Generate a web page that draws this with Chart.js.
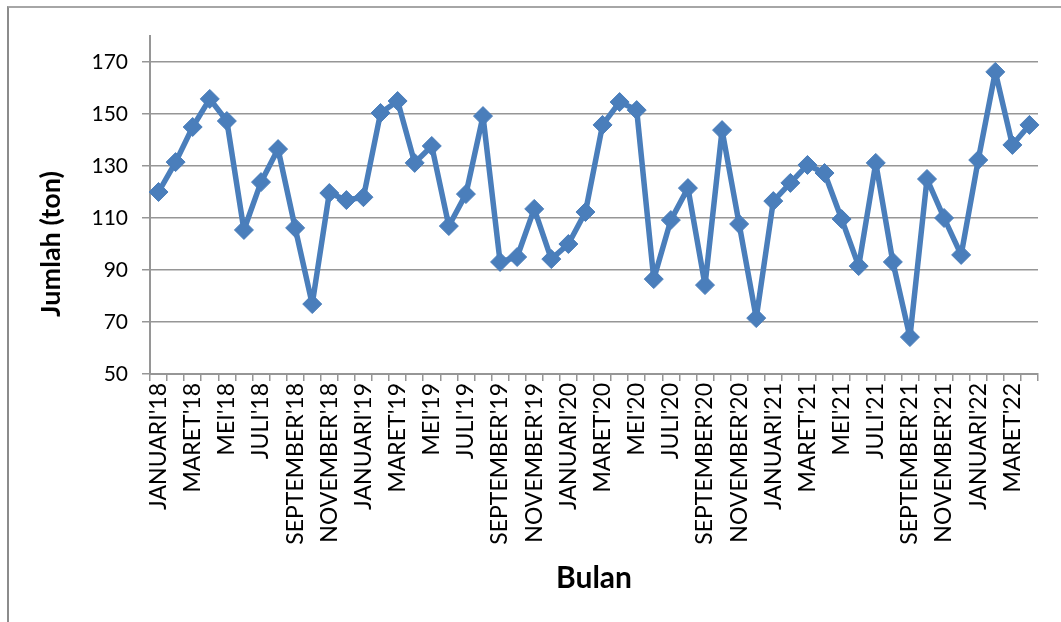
<!DOCTYPE html>
<html>
<head>
<meta charset="utf-8">
<script src="https://cdn.jsdelivr.net/npm/chart.js@4/dist/chart.umd.min.js"></script>
<style>
  html, body { margin: 0; padding: 0; background: #fff; overflow: hidden; }
  #wrap { position: relative; width: 1061px; height: 622px; }
  #frame { position: absolute; left: 7px; top: 6px; width: 1100px; height: 700px;
           border-top: 2px solid #a6a6a6; border-left: 2px solid #8c8c8c; pointer-events: none; }
  canvas { position: absolute; left: 0; top: 0; }
</style>
</head>
<body>
<div id="wrap">
  <canvas id="chart" width="1061" height="622"></canvas>
  <div id="frame"></div>
</div>
<script>
// Monthly volume, January 2018 - April 2022
const months = ["JANUARI", "FEBRUARI", "MARET", "APRIL", "MEI", "JUNI",
                "JULI", "AGUSTUS", "SEPTEMBER", "OKTOBER", "NOVEMBER", "DESEMBER"];
const years = ["18", "19", "20", "21", "22"];

const categories = [];
years.forEach(y => months.forEach(m => categories.push(m + "'" + y)));
categories.length = 52; // up to APRIL'22

const jumlah2018 = [120, 131.5, 145, 155.8, 147.3, 105.4, 123.8, 136.5, 106.2, 76.9, 119.6, 116.9];
const jumlah2019 = [118, 150.4, 155, 131.2, 137.7, 106.9, 119.2, 149.2, 93.1, 95, 113.5, 94.2];
const jumlah2020 = [100, 112.3, 145.8, 154.6, 151.5, 86.5, 109.2, 121.5, 84.2, 143.8, 107.7, 71.5];
const jumlah2021 = [116.5, 123.5, 130.4, 127.3, 109.6, 91.5, 131.2, 93.1, 64.2, 125, 110, 95.8];
const jumlah2022 = [132.3, 166.2, 138.1, 145.8];
const jumlah = [].concat(jumlah2018, jumlah2019, jumlah2020, jumlah2021, jumlah2022);

const yTicks = [50, 70, 90, 110, 130, 150, 170];
const yTitle = 'Jumlah (ton)';
const xTitle = 'Bulan';

const gridGray = '#969696';
const lineBlue = '#4a7ebb';

// Vertical axis title, drawn rotated to the left of the value axis
const yTitlePlugin = {
  id: 'yTitle',
  afterDraw(chart) {
    const ctx = chart.ctx;
    ctx.save();
    ctx.translate(51, 244);
    ctx.rotate(-Math.PI / 2);
    ctx.font = 'bold 27px Lato';
    ctx.fillStyle = '#000';
    ctx.textAlign = 'center';
    ctx.textBaseline = 'middle';
    ctx.fillText(yTitle, 0, 0);
    ctx.restore();
  }
};

new Chart(document.getElementById('chart'), {
  type: 'line',
  data: {
    labels: categories,
    datasets: [{
      data: jumlah,
      borderColor: lineBlue,
      backgroundColor: lineBlue,
      borderWidth: 5.5,
      borderJoinStyle: 'round',
      borderCapStyle: 'round',
      pointStyle: 'rectRot',
      pointRadius: 9.5,
      pointHoverRadius: 9.5,
      pointBorderWidth: 1,
      pointBorderColor: lineBlue,
      pointBackgroundColor: lineBlue,
      tension: 0
    }]
  },
  plugins: [yTitlePlugin],
  options: {
    responsive: false,
    animation: false,
    layout: { padding: { left: 0, top: 36, right: 23, bottom: 0 } },
    plugins: { legend: { display: false }, tooltip: { enabled: false } },
    scales: {
      x: {
        type: 'category',
        offset: true,
        afterFit(s) { s.height = 248; },
        grid: { offset: true, drawOnChartArea: false, drawTicks: true, tickLength: 7, color: gridGray, lineWidth: 1.5 },
        border: { display: true, color: gridGray, width: 2 },
        ticks: {
          autoSkip: false,
          minRotation: 90,
          maxRotation: 90,
          padding: 2,
          color: '#000',
          font: { family: 'Lato', size: 23 },
          callback(v, i) { return i % 2 === 0 ? categories[i] : ''; }
        },
        title: {
          display: true,
          text: xTitle,
          color: '#000',
          font: { family: 'Lato', size: 30, weight: 'bold' },
          padding: { top: 0, bottom: 26 }
        }
      },
      y: {
        min: 50,
        max: 180,
        afterFit(s) { s.width = 150; },
        afterBuildTicks(s) { s.ticks = yTicks.map(v => ({ value: v })); },
        grid: { drawTicks: true, tickLength: 8, color: gridGray, lineWidth: 1.5 },
        border: { display: true, color: gridGray, width: 2 },
        ticks: {
          padding: 14,
          color: '#000',
          font: { family: 'Lato', size: 21 }
        }
      }
    }
  }
});
</script>
</body>
</html>
